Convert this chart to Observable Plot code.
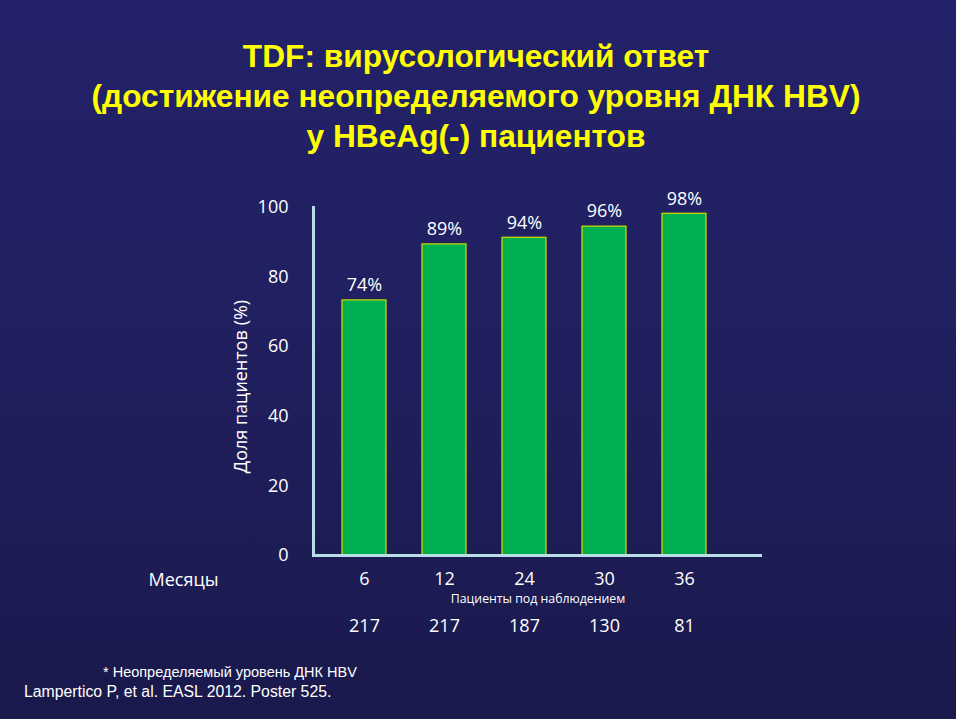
<!DOCTYPE html>
<html>
<head>
<meta charset="utf-8">
<script src="https://cdn.jsdelivr.net/npm/d3@7"></script>
<script src="https://cdn.jsdelivr.net/npm/@observablehq/plot@0.6"></script>
<style>
  html, body { margin: 0; padding: 0; }
  body { width: 956px; height: 719px; overflow: hidden;
         background: linear-gradient(to bottom, #23226a 0%, #201f5e 50%, #1a194c 100%); }
  #wrap { position: relative; width: 956px; height: 719px; }
  #chart { position: absolute; left: 0; top: 0; }
  #title { position: absolute; left: 0; width: 952px; top: 36px; text-align: center;
           font-family: "Liberation Sans", Arial, sans-serif; font-weight: bold;
           font-size: 31.7px; line-height: 40px; color: #ffff00; }
  .note { position: absolute; font-family: "Liberation Sans", Arial, sans-serif; color: #ffffff; white-space: nowrap; }
</style>
</head>
<body>
<div id="wrap">
  <div id="chart"></div>
  <div id="title"></div>
  <div class="note" id="note1" style="left:103px; top:664px; font-size:14.5px; line-height:17px;"></div>
  <div class="note" id="note2" style="left:24px; top:682px; font-size:15.8px; line-height:19px;"></div>
</div>
<script>
// ---- data ----
const titleLines = [
  "TDF: вирусологический ответ",
  "(достижение неопределяемого уровня ДНК HBV)",
  "у HBeAg(-) пациентов"
];
const months = ["6", "12", "24", "30", "36"];
const barValues = [73.3, 89.4, 91.3, 94.5, 98.2];
const valueLabels = ["74%", "89%", "94%", "96%", "98%"];
const patients = ["217", "217", "187", "130", "81"];
const yTicks = [0, 20, 40, 60, 80, 100];
const yLabel = "Доля пациентов (%)";
const xLabel = "Месяцы";
const patientsLabel = "Пациенты под наблюдением";
const footnote = "* Неопределяемый уровень ДНК HBV";
const source = "Lampertico P, et al. EASL 2012. Poster 525.";

// ---- build ----
const rows = months.map((m, i) => ({month: m, value: barValues[i], label: valueLabels[i], n: patients[i]}));

document.getElementById("title").innerHTML = titleLines.map(t => `<div>${t}</div>`).join("");
document.getElementById("note1").textContent = footnote;
document.getElementById("note2").textContent = source;

const axisColor = "#b7dde8";
const font = "'Open Sans', 'Noto Sans', sans-serif";

const plot = Plot.plot({
  width: 956,
  height: 719,
  marginTop: 207,
  marginBottom: 164,
  marginLeft: 313,
  marginRight: 194,
  style: {background: "transparent", color: "#ffffff", fontFamily: font, fontSize: "18px"},
  x: {domain: months, paddingInner: 0.446, paddingOuter: 0.519, align: 0.345},
  y: {domain: [0, 100]},
  marks: [
    Plot.barY(rows, {x: "month", y: "value", fill: "#00b050", stroke: "#d2e000", strokeWidth: 1.2}),
    Plot.ruleY([0], {stroke: axisColor, strokeWidth: 3}),
    Plot.frame({anchor: "left", stroke: axisColor, strokeWidth: 3}),
    Plot.axisY({ticks: yTicks, tickSize: 0, tickPadding: 25, fontSize: 18, label: null}),
    Plot.axisX({tickSize: 0, tickPadding: 17, fontSize: 18, label: null}),
    Plot.text(rows, {x: "month", y: "value", text: "label", dy: -15, lineAnchor: "middle", fontSize: 18}),
    Plot.text(rows, {x: "month", text: "n", frameAnchor: "bottom", dy: 71, lineAnchor: "middle", fontSize: 18}),
    Plot.text([patientsLabel], {frameAnchor: "bottom", dy: 44, lineAnchor: "middle", fontSize: 12.3}),
    Plot.text([xLabel], {frameAnchor: "bottom-left", dx: -130, dy: 25, textAnchor: "middle", lineAnchor: "middle", fontSize: 18}),
    Plot.text([yLabel], {frameAnchor: "left", dx: -72, dy: 5, rotate: -90, textAnchor: "middle", lineAnchor: "middle", fontSize: 18})
  ]
});
document.getElementById("chart").appendChild(plot);
</script>
</body>
</html>
